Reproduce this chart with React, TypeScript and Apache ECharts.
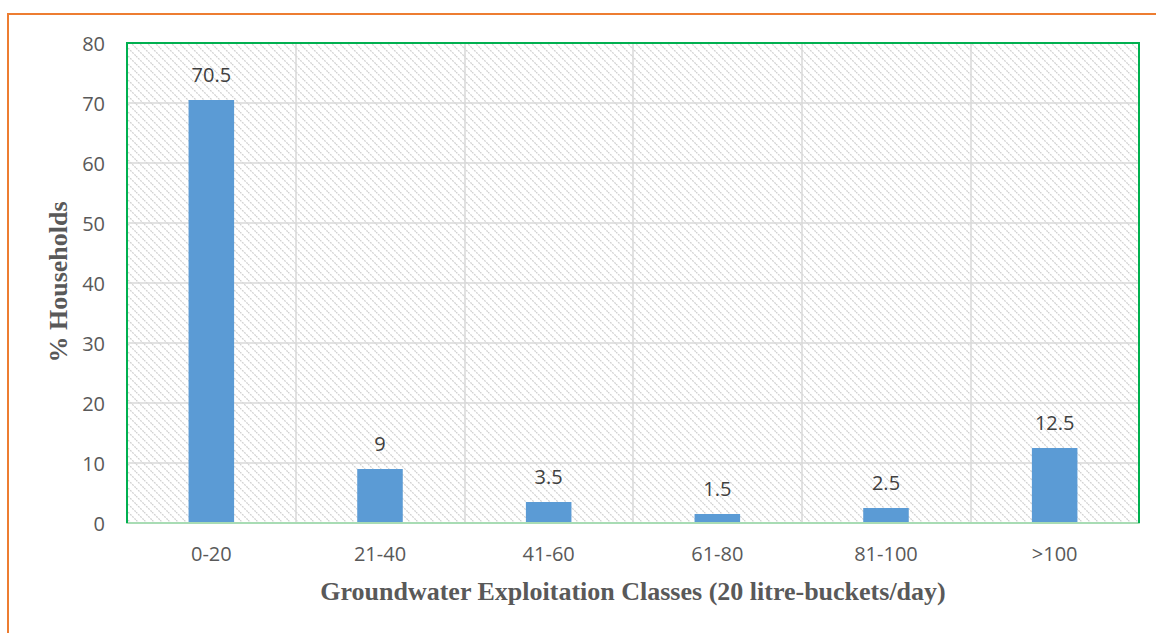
import React, { useEffect, useRef } from "react";
import * as echarts from "echarts";

// Household share per bucket-count class
const categories = ["0-20", "21-40", "41-60", "61-80", "81-100", ">100"];
const households = [70.5, 9, 3.5, 1.5, 2.5, 12.5];
const yTicks = { min: 0, max: 80, interval: 10 };

const xTitle = "Groundwater Exploitation Classes (20 litre-buckets/day)";
const yTitle = "% Households";

// Plot box in pixels
const PLOT = { left: 127, top: 43, right: 1139, bottom: 523 };

// Light grey downward-diagonal hatch used behind the plot
const hatchSvg =
  "<svg xmlns='http://www.w3.org/2000/svg' width='8' height='8'>" +
  "<path d='M0,0 L8,8 M-2,6 L2,10 M6,-2 L10,2' stroke='#d2d2d2' stroke-width='1.3' stroke-dasharray='2,1'/>" +
  "</svg>";
const hatchUrl = "data:image/svg+xml;charset=utf-8," + encodeURIComponent(hatchSvg);

export default function App() {
  const ref = useRef<HTMLDivElement>(null);

  useEffect(() => {
    if (!ref.current) return;
    const chart = echarts.init(ref.current, undefined, { renderer: "svg" });
    const tickFont = "'Open Sans', 'Noto Sans', sans-serif";
    const titleFont = "'Liberation Serif', 'DejaVu Serif', serif";

    chart.setOption({
      animation: false,
      backgroundColor: "#ffffff",
      grid: {
        left: PLOT.left,
        top: PLOT.top,
        right: 1156 - PLOT.right,
        bottom: 633 - PLOT.bottom,
        show: true,
        backgroundColor: { image: hatchUrl, repeat: "repeat" } as any,
        borderWidth: 0,
      },
      graphic: [
        {
          type: "rect",
          shape: { x: 8, y: 14, width: 1400, height: 900 },
          style: { fill: "none", stroke: "#ed7d31", lineWidth: 2 },
          silent: true,
          z: -10,
        },
        {
          // green frame on the left, top and right of the plot
          type: "polyline",
          shape: {
            points: [
              [PLOT.left, PLOT.bottom],
              [PLOT.left, PLOT.top],
              [PLOT.right, PLOT.top],
              [PLOT.right, PLOT.bottom],
            ],
          },
          style: { fill: "none", stroke: "#00b050", lineWidth: 2 },
          silent: true,
          z: 100,
        },
        {
          type: "text",
          x: 633,
          y: 591,
          style: {
            text: xTitle,
            fill: "#595959",
            font: `bold 26px ${titleFont}`,
            align: "center",
            verticalAlign: "middle",
          },
        },
        {
          type: "text",
          x: 58,
          y: 282,
          rotation: Math.PI / 2,
          style: {
            text: yTitle,
            fill: "#595959",
            font: `bold 26px ${titleFont}`,
            align: "center",
            verticalAlign: "middle",
          },
        },
      ],
      xAxis: {
        type: "category",
        data: categories,
        axisLine: { show: true, lineStyle: { color: "#a8dcb4", width: 2 } },
        axisTick: { show: false },
        axisLabel: {
          color: "#595959",
          fontFamily: tickFont,
          fontSize: 20,
          margin: 20,
        },
        splitLine: { show: true, lineStyle: { color: "#d9d9d9", width: 1.5 } },
        z: 5,
      },
      yAxis: {
        type: "value",
        min: yTicks.min,
        max: yTicks.max,
        interval: yTicks.interval,
        axisLine: { show: false },
        axisTick: { show: false },
        axisLabel: {
          color: "#595959",
          fontFamily: tickFont,
          fontSize: 20,
          margin: 22,
        },
        splitLine: { show: true, lineStyle: { color: "#d9d9d9", width: 1.5 } },
      },
      series: [
        {
          type: "bar",
          data: households,
          barWidth: "27%",
          itemStyle: { color: "#5b9bd5" },
          label: {
            show: true,
            position: "top",
            distance: 16,
            color: "#404040",
            fontFamily: tickFont,
            fontSize: 20,
          },
        },
      ],
    });

    return () => chart.dispose();
  }, []);

  return (
    <div
      ref={ref}
      style={{ position: "absolute", left: 0, top: 0, width: 1156, height: 633 }}
    />
  );
}
